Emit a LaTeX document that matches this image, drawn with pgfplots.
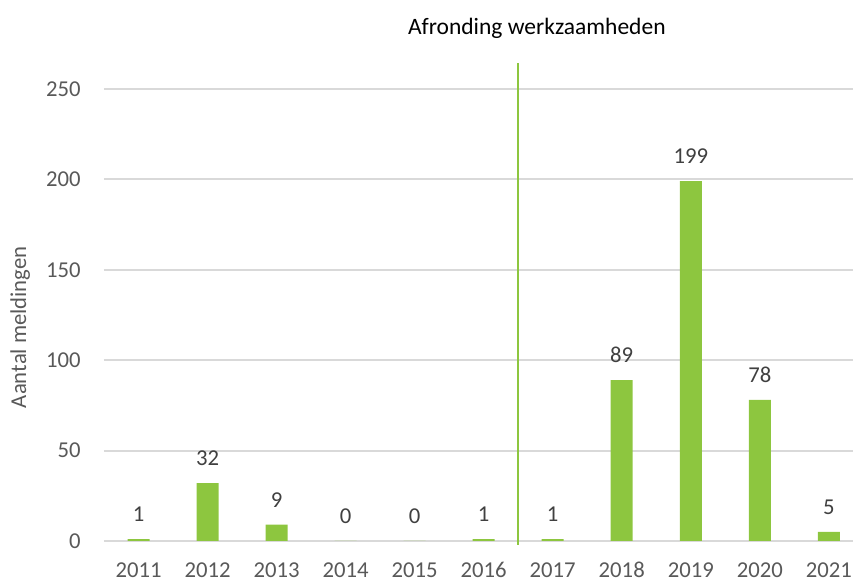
\documentclass[border=0pt]{standalone}
\usepackage{fontspec}
\setmainfont{Carlito}
\usepackage{pgfplots}
\pgfplotsset{compat=1.18}
\definecolor{bargreen}{HTML}{8DC63F}
\definecolor{gridgray}{HTML}{D9D9D9}
\definecolor{ticktext}{HTML}{595959}
\definecolor{labeltext}{HTML}{404040}
\newcommand{\chartfont}{\fontsize{11.35}{13.6}\selectfont}
\begin{document}
\begin{tikzpicture}
\path[use as bounding box] (-52pt,-20pt) rectangle (374.5pt,270.5pt);
\begin{axis}[
  scale only axis, width=374.5pt, height=226pt,
  at={(0,0)}, anchor=south west,
  xmin=-0.5, xmax=10.35, ymin=0, ymax=250,
  ybar, bar width=11pt,
  xtick={0,1,2,3,4,5,6,7,8,9,10},
  xticklabels={2011,2012,2013,2014,2015,2016,2017,2018,2019,2020,2021},
  ytick={0,50,100,150,200,250},
  axis line style={draw=none},
  major tick length=0pt,
  ymajorgrids, grid style={gridgray, line width=1pt},
  clip=false,
  /pgf/number format/assume math mode=true,
  tick label style={font=\chartfont, text=ticktext},
  xticklabel style={anchor=base, yshift=-18.5pt},
  yticklabel style={anchor=east, xshift=-8.2pt},
  ylabel={Aantal meldingen},
  ylabel style={font=\chartfont, text=ticktext, at={(axis description cs:-0.112,0.473)}, anchor=center},
  nodes near coords,
  nodes near coords style={font=\chartfont, text=labeltext, anchor=base, yshift=8.75pt},
]
\addplot[fill=bargreen, draw=none] coordinates {
  (0,1) (1,32) (2,9) (3,0) (4,0) (5,1) (6,1) (7,89) (8,199) (9,78) (10,5)
};
\draw[bargreen, line width=0.7pt] (axis cs:5.5,-2) -- (axis cs:5.5,264.4);
\node[font=\fontsize{11.75}{14}\selectfont, text=black] at (axis cs:5.77,283.7) {Afronding werkzaamheden};
\end{axis}
\end{tikzpicture}
\end{document}
